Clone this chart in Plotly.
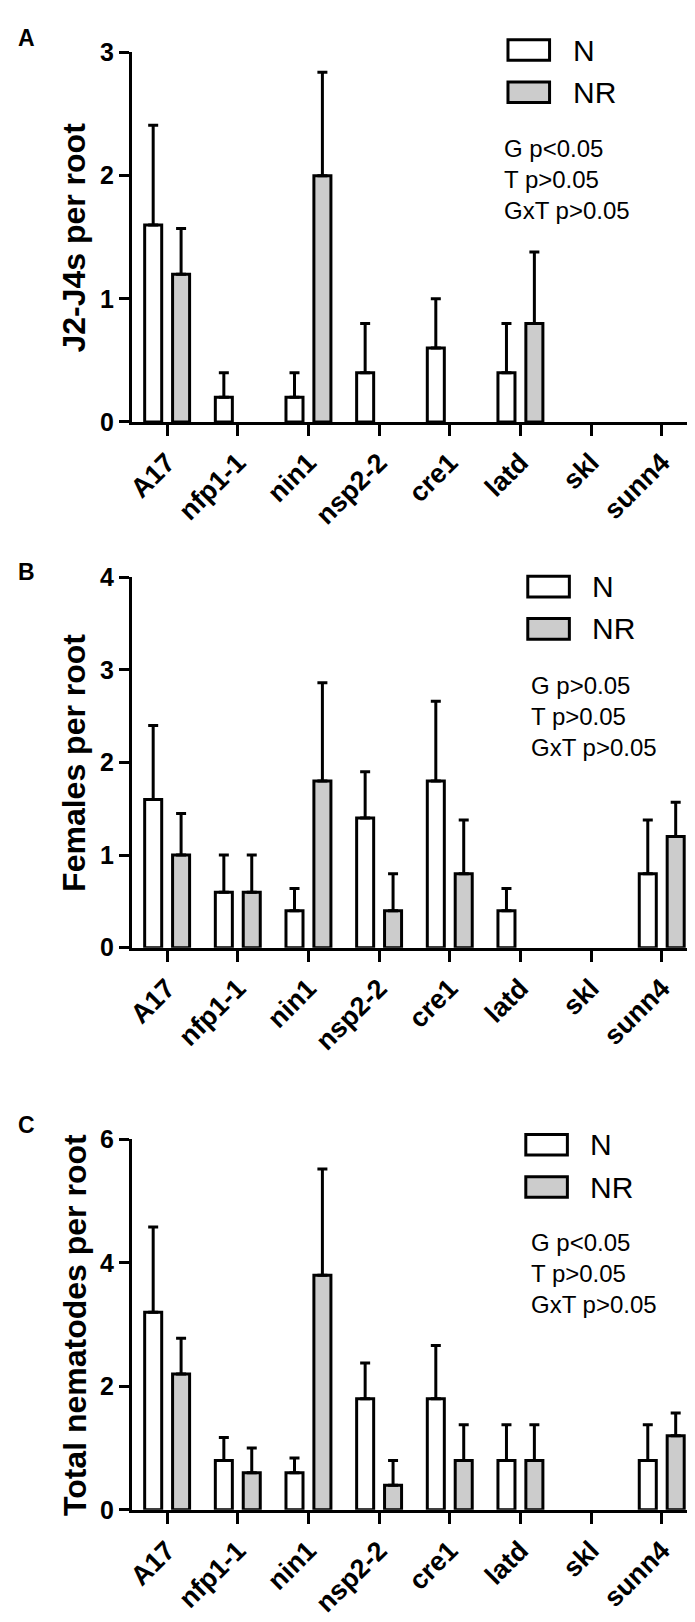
import plotly.graph_objects as go
from plotly.subplots import make_subplots

W, H = 695, 1622

genotypes = ["A17", "nfp1-1", "nin1", "nsp2-2", "cre1", "latd", "skl", "sunn4"]

# panel A: J2-J4s per root
j2_n = [1.6, 0.2, 0.2, 0.4, 0.6, 0.4, 0, 0]
j2_n_err = [0.81, 0.2, 0.2, 0.4, 0.4, 0.4, 0, 0]
j2_nr = [1.2, 0, 2.0, 0, 0, 0.8, 0, 0]
j2_nr_err = [0.37, 0, 0.84, 0, 0, 0.58, 0, 0]

# panel B: females per root
fem_n = [1.6, 0.6, 0.4, 1.4, 1.8, 0.4, 0, 0.8]
fem_n_err = [0.8, 0.4, 0.24, 0.5, 0.86, 0.24, 0, 0.58]
fem_nr = [1.0, 0.6, 1.8, 0.4, 0.8, 0, 0, 1.2]
fem_nr_err = [0.45, 0.4, 1.06, 0.4, 0.58, 0, 0, 0.37]

# panel C: total nematodes per root
tot_n = [3.2, 0.8, 0.6, 1.8, 1.8, 0.8, 0, 0.8]
tot_n_err = [1.38, 0.37, 0.24, 0.58, 0.86, 0.58, 0, 0.58]
tot_nr = [2.2, 0.6, 3.8, 0.4, 0.8, 0.8, 0, 1.2]
tot_nr_err = [0.58, 0.4, 1.72, 0.4, 0.58, 0.58, 0, 0.37]

panels = [
    ("A", "J2-J4s per root", j2_n, j2_n_err, j2_nr, j2_nr_err, 3, [0, 1, 2, 3],
     ["G p<0.05", "T p>0.05", "GxT p>0.05"]),
    ("B", "Females per root", fem_n, fem_n_err, fem_nr, fem_nr_err, 4, [0, 1, 2, 3, 4],
     ["G p>0.05", "T p>0.05", "GxT p>0.05"]),
    ("C", "Total nematodes per root", tot_n, tot_n_err, tot_nr, tot_nr_err, 6, [0, 2, 4, 6],
     ["G p<0.05", "T p>0.05", "GxT p>0.05"]),
]

# pixel layout of each panel: (top of y axis, zero line)
panel_px = [(31, 407), (565, 942), (1137, 1514)]
legend_px = [(498, 18, 562), (518, 564, 581), (516, 1132, 579)]
stats_px = [(492, 113), (519, 659), (519, 1226)]
letter_px = [(1, 16), (1, 560), (1, 1122)]

FONT = "Liberation Sans, Arial, sans-serif"
GRAY = "#cccccc"


def px_x(v):
    return v / W


def px_y(v):
    return 1 - v / H


def nz(vals):
    # empty groups draw nothing (no bar, no error bar)
    return [v if v else None for v in vals]


fig = make_subplots(rows=3, cols=1)

for i, (letter, title, n, n_err, nr, nr_err, ymax, ticks, stats) in enumerate(panels):
    row = i + 1
    for name, vals, err, color in [("N", n, n_err, "white"), ("NR", nr, nr_err, GRAY)]:
        fig.add_trace(
            go.Bar(
                x=genotypes,
                y=nz(vals),
                name=name,
                marker=dict(color=color, line=dict(color="black", width=3)),
                error_y=dict(type="data", array=nz(err), symmetric=False,
                             arrayminus=[0] * len(err), color="black",
                             thickness=3, width=5),
                showlegend=False,
            ),
            row=row, col=1,
        )

    top, zero = panel_px[i]
    xa = "xaxis" if i == 0 else f"xaxis{row}"
    ya = "yaxis" if i == 0 else f"yaxis{row}"
    fig.layout[xa].update(
        domain=[px_x(118), px_x(689)], range=[-0.5, 7.5],
        showline=True, linewidth=3, linecolor="black", mirror=False,
        ticks="outside", ticklen=11, tickwidth=3, tickcolor="black",
        tickangle=-45, showgrid=False, zeroline=False,
        tickfont=dict(family=FONT, size=27, color="black", weight="bold"),
    )
    fig.layout[ya].update(
        domain=[px_y(zero), px_y(top)], range=[0, ymax],
        tickvals=ticks, showline=True, linewidth=3, linecolor="black",
        ticks="outside", ticklen=10, tickwidth=3, tickcolor="black",
        showgrid=False, zeroline=False,
        tickfont=dict(family=FONT, size=25, color="black", weight="bold"),
    )

    yref = "y domain" if i == 0 else f"y{row} domain"
    fig.add_annotation(
        text=title, textangle=-90, xref="paper", yref=yref, x=px_x(60), y=0.5,
        xanchor="center", yanchor="middle", showarrow=False,
        font=dict(family=FONT, size=32, color="black", weight="bold"),
    )
    lx, ly = letter_px[i]
    fig.add_annotation(
        text=letter, xref="paper", yref="paper", x=px_x(lx), y=px_y(ly),
        xanchor="left", yanchor="middle", showarrow=False,
        font=dict(family=FONT, size=23, color="black", weight="bold"),
    )

    # legend boxes
    bx, by, tx = legend_px[i]
    for k, (name, color) in enumerate([("N", "white"), ("NR", GRAY)]):
        y0 = by + k * 43
        fig.add_shape(
            type="rect", xref="paper", yref="paper",
            x0=px_x(bx), x1=px_x(bx + 42), y0=px_y(y0), y1=px_y(y0 + 21),
            fillcolor=color, line=dict(color="black", width=3),
        )
        fig.add_annotation(
            text=name, xref="paper", yref="paper", x=px_x(tx), y=px_y(y0 + 10.5),
            xanchor="left", yanchor="middle", showarrow=False,
            font=dict(family=FONT, size=30, color="black"),
        )

    sx, sy = stats_px[i]
    fig.add_annotation(
        text="<br>".join(stats), xref="paper", yref="paper", x=px_x(sx), y=px_y(sy),
        xanchor="left", yanchor="top", align="left", showarrow=False,
        font=dict(family=FONT, size=24, color="black"),
    )

fig.update_layout(
    width=W, height=H,
    margin=dict(l=0, r=0, t=0, b=0),
    plot_bgcolor="white", paper_bgcolor="white",
    barmode="group", bargap=0.21, bargroupgap=0.39,
    font=dict(family=FONT, color="black"),
)

fig.write_html("out.html")
